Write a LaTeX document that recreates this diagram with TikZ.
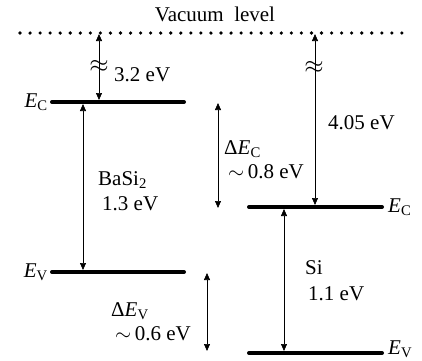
\documentclass[tikz,border=0pt]{standalone}
\usepackage{fontspec}
\setmainfont{Liberation Serif}
\usetikzlibrary{arrows.meta}

\newcommand{\Ec}{\textit{E}\textsubscript{C}}
\newcommand{\Ev}{\textit{E}\textsubscript{V}}

\begin{document}
\begin{tikzpicture}[x=1pt, y=-1pt, font=\fontsize{21}{24}\selectfont,
   level/.style={line width=4pt, line cap=round},
   gaparrow/.style={{Triangle[length=7pt,width=6pt]}-{Triangle[length=7pt,width=6pt]}, line width=0.7pt},
   lbl/.style={anchor=west, inner sep=0pt},
   brk/.style={inner sep=0pt, font=\fontsize{28}{28}\selectfont}]
  \useasboundingbox (0,0) rectangle (422,360);
  % vacuum level
  \node (vac) at (215,14) {Vacuum\ \ level};
  \coordinate (vacL) at (20,33);
  \coordinate (vacR) at (411,33);
  \draw[line width=3.6pt, line cap=round, dash pattern=on 0pt off 10.05pt] (vacL) -- (vacR);
  % band edges: name / left x / right x / y
  \foreach \n/\xa/\xb/\yy in {bEc/52/184/102, bEv/52/184/272, sEc/249/382/207, sEv/249/382/353}{
    \coordinate (\n L) at (\xa,\yy);
    \coordinate (\n R) at (\xb,\yy);
    \draw[level] (\n L) -- (\n R);
  }
  \node[anchor=east, inner sep=4pt] (lbEc) at (bEcL) {\Ec};
  \node[anchor=east, inner sep=4pt] (lbEv) at (bEvL) {\Ev};
  \node[anchor=west, inner sep=6pt] (lsEc) at (sEcR) {\Ec};
  \node[anchor=west, inner sep=6pt] (lsEv) at ([yshift=4pt]sEvR) {\Ev};
  % arrows: name / x / top y / bottom y
  \foreach \n/\xx/\ya/\yb in {chiB/99/34/100, gapB/83/104/270, dEc/218/103/208,
                              chiS/315/34/205, gapS/284/209/351, dEv/207/273/351}{
    \coordinate (\n T) at (\xx,\ya);
    \coordinate (\n B) at (\xx,\yb);
    \draw[gaparrow] (\n T) -- (\n B);
  }
  % axis breaks
  \node[brk] (brkB) at (99,66) {$\approx$};
  \node[brk] (brkS) at (314,67) {$\approx$};
  % values
  \node[lbl] (tchiB) at (114,75) {3.2 eV};
  \node[lbl] (tchiS) at (328,123) {4.05 eV};
  \node[lbl] (tdEc) at (224,149) {Δ\Ec};
  \node[lbl] (tdEc2) at (228,172) {$\sim$\,0.8 eV};
  \node[lbl] (tgapB) at (98,180) {BaSi\textsubscript{2}};
  \node[lbl] (tgapB2) at (102,204) {1.3 eV};
  \node[lbl] (tgapS) at (305,268) {Si};
  \node[lbl] (tgapS2) at (308,294) {1.1 eV};
  \node[lbl] (tdEv) at (111,311) {Δ\Ev};
  \node[lbl] (tdEv2) at (115,334) {$\sim$\,0.6 eV};
\end{tikzpicture}
\end{document}
